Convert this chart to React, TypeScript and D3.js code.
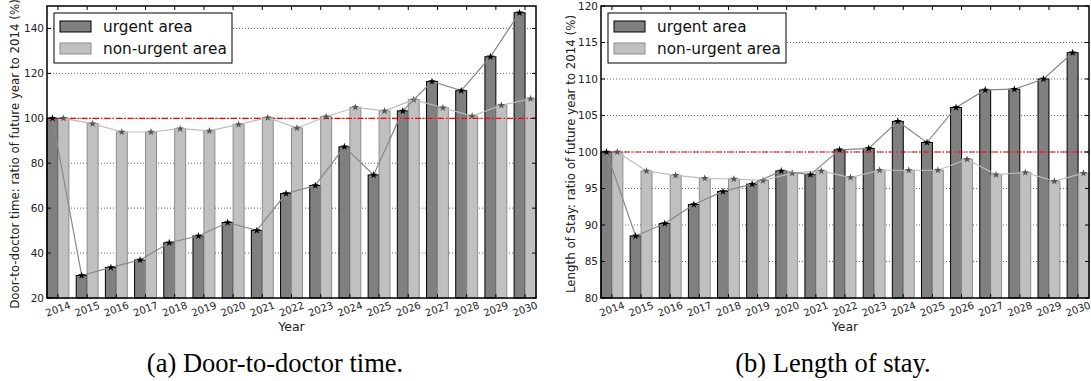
import * as d3 from 'd3';

const years = ['2014', '2015', '2016', '2017', '2018', '2019', '2020', '2021', '2022', '2023', '2024', '2025', '2026', '2027', '2028', '2029', '2030'];
const doorUrgent = [100, 30, 33.6, 36.9, 44.6, 47.6, 53.6, 50.1, 66.5, 70.1, 87.3, 74.8, 103.3, 116.4, 112.3, 127.4, 147];
const doorNonUrgent = [100, 97.6, 93.9, 93.9, 95.4, 94.4, 97.3, 100.3, 95.7, 100.7, 104.9, 103.3, 108.3, 104.7, 101, 105.8, 108.7];
const stayUrgent = [100, 88.5, 90.2, 92.8, 94.6, 95.6, 97.4, 96.9, 100.3, 100.5, 104.2, 101.3, 106.1, 108.5, 108.6, 110, 113.6];
const stayNonUrgent = [100, 97.4, 96.8, 96.4, 96.3, 96.1, 97.1, 97.4, 96.5, 97.5, 97.5, 97.5, 99, 96.9, 97.2, 96, 97.1];
const doorTicks = [20, 40, 60, 80, 100, 120, 140];
const stayTicks = [80, 85, 90, 95, 100, 105, 110, 115, 120];
const seriesNames = ['urgent area', 'non-urgent area'];

const FONT = "'DejaVu Sans', sans-serif";
const W = 0.375; // bar width in category units

type PanelProps = {
  left: number;
  right: number;
  top: number;
  bottom: number;
  domain: [number, number];
  ticks: number[];
  ylabel: string;
  ylabelX: number;
  urgent: number[];
  nonUrgent: number[];
};

function Panel({ left, right, top, bottom, domain, ticks, ylabel, ylabelX, urgent, nonUrgent }: PanelProps) {
  const x = d3.scaleLinear().domain([0, years.length - 1 + 2 * W]).range([left, right]);
  const y = d3.scaleLinear().domain(domain).range([bottom, top]);
  const line = d3.line<number>().x((_, i) => x(i + W / 2)).y(d => y(d));
  const line2 = d3.line<number>().x((_, i) => x(i + 1.5 * W)).y(d => y(d));
  const star = d3.symbol().type(d3.symbolStar).size(18)() as string;
  const lx = left + 7;
  const ly = top + 7;

  return (
    <g>
      {/* grid */}
      {ticks.filter(t => t > domain[0] && t < domain[1]).map(t => (
        <line key={'g' + t} x1={left} x2={right} y1={y(t)} y2={y(t)} stroke="#000" strokeWidth={0.6} strokeDasharray="1,2" />
      ))}
      {/* bars */}
      {urgent.map((v, i) => (
        <rect key={'u' + i} x={x(i)} y={y(v)} width={x(W) - x(0)} height={bottom - y(v)} fill="#808080" stroke="#000" strokeWidth={1} />
      ))}
      {nonUrgent.map((v, i) => (
        <rect key={'n' + i} x={x(i + W)} y={y(v)} width={x(W) - x(0)} height={bottom - y(v)} fill="#c0c0c0" stroke="#8c8c8c" strokeWidth={1} />
      ))}
      {/* reference line */}
      <line x1={left} x2={right} y1={y(100)} y2={y(100)} stroke="#ff0000" strokeWidth={1.2} strokeDasharray="6,2,1.5,2" />
      {/* trend lines */}
      <path d={line2(nonUrgent) ?? ''} fill="none" stroke="#bdbdbd" strokeWidth={1.2} />
      {nonUrgent.map((v, i) => (
        <path key={'m2' + i} d={star} transform={`translate(${x(i + 1.5 * W)},${y(v)})`} fill="#555" />
      ))}
      <path d={line(urgent) ?? ''} fill="none" stroke="#888" strokeWidth={1.2} />
      {urgent.map((v, i) => (
        <path key={'m' + i} d={star} transform={`translate(${x(i + W / 2)},${y(v)})`} fill="#000" />
      ))}
      {/* frame */}
      <rect x={left} y={top} width={right - left} height={bottom - top} fill="none" stroke="#000" strokeWidth={1.5} />
      {/* y ticks */}
      {ticks.map(t => (
        <g key={'yt' + t}>
          <line x1={left} x2={left + 4} y1={y(t)} y2={y(t)} stroke="#000" />
          <line x1={right - 4} x2={right} y1={y(t)} y2={y(t)} stroke="#000" />
          <text x={left - 3} y={y(t)} dy="0.35em" textAnchor="end" fontSize={10.5} fontFamily={FONT} fill="#222">{t}</text>
        </g>
      ))}
      {/* x ticks */}
      {years.map((yr, i) => (
        <g key={'xt' + yr}>
          <line x1={x(i + W)} x2={x(i + W)} y1={bottom} y2={bottom - 4} stroke="#000" />
          <line x1={x(i + W)} x2={x(i + W)} y1={top} y2={top + 4} stroke="#000" />
          <text transform={`translate(${x(i + W)},${bottom + 11}) rotate(-20)`} textAnchor="middle" dy="0.35em" fontSize={10.1} fontFamily={FONT} fill="#222">{yr}</text>
        </g>
      ))}
      <text x={(left + right) / 2} y={bottom + 33} textAnchor="middle" fontSize={12.5} fontFamily={FONT} fill="#222">Year</text>
      <text transform={`translate(${ylabelX},${(top + bottom) / 2 + 2}) rotate(-90)`} textAnchor="middle" dy="0.35em" fontSize={11.8} fontFamily={FONT} fill="#222">{ylabel}</text>
      {/* legend */}
      <rect x={lx} y={ly} width={178} height={50} fill="#fff" stroke="#000" strokeWidth={1} />
      <rect x={lx + 6} y={ly + 8} width={31} height={11} fill="#808080" stroke="#000" strokeWidth={1} />
      <rect x={lx + 6} y={ly + 30} width={31} height={11} fill="#c0c0c0" stroke="#8c8c8c" strokeWidth={1} />
      <text x={lx + 49} y={ly + 19} fontSize={15.3} fontFamily={FONT} fill="#111">{seriesNames[0]}</text>
      <text x={lx + 49} y={ly + 41} fontSize={15.3} fontFamily={FONT} fill="#111">{seriesNames[1]}</text>
    </g>
  );
}

export default function App() {
  return (
    <div style={{ position: 'absolute', left: 0, top: 0 }}>
      <svg width={1091} height={381} style={{ display: 'block', background: '#fff' }}>
        <Panel left={47} right={536} top={6} bottom={298} domain={[20, 150]} ticks={doorTicks}
          ylabel="Door-to-doctor time: ratio of future year to 2014 (%)" ylabelX={15}
          urgent={doorUrgent} nonUrgent={doorNonUrgent} />
        <Panel left={601} right={1089} top={6} bottom={298} domain={[80, 120]} ticks={stayTicks}
          ylabel="Length of Stay: ratio of future year to 2014 (%)" ylabelX={571}
          urgent={stayUrgent} nonUrgent={stayNonUrgent} />
        <text x={275} y={372} textAnchor="middle" fontSize={26.5} fontFamily="'Liberation Serif', serif" fill="#000">(a) Door-to-doctor time.</text>
        <text x={833} y={372} textAnchor="middle" fontSize={26.5} fontFamily="'Liberation Serif', serif" fill="#000">(b) Length of stay.</text>
      </svg>
    </div>
  );
}
